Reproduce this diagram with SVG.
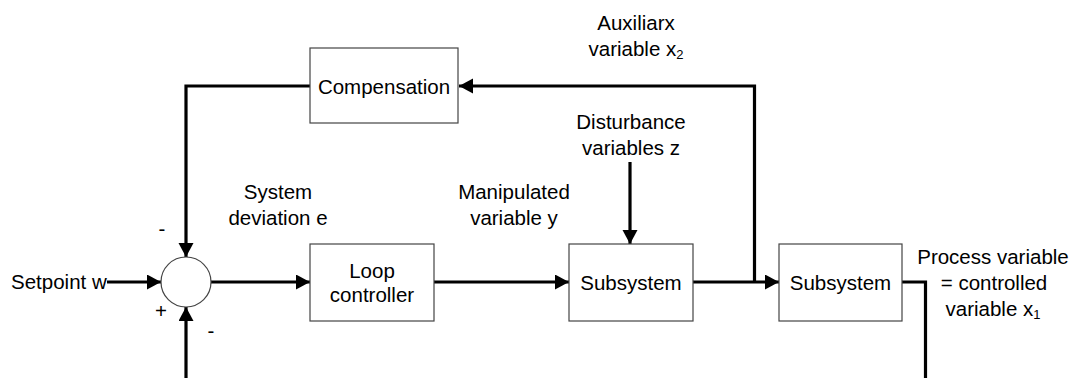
<svg xmlns="http://www.w3.org/2000/svg" width="1081" height="378" viewBox="0 0 1081 378">
<style>
.box{fill:#fff;stroke:#444;stroke-width:1.2}
.ln{fill:none;stroke:#000;stroke-width:3.2}
text{font-family:"Liberation Sans",Arial,sans-serif;font-size:20.5px;fill:#000}
.c{text-anchor:middle}
.sub{font-size:13px}
</style>
<defs>
<marker id="ah" markerUnits="userSpaceOnUse" markerWidth="15" markerHeight="16" refX="14" refY="7.5" orient="auto">
<path d="M0,0 L14,7.5 L0,15 Z" fill="#000"/>
</marker>
</defs>
<rect width="1081" height="378" fill="#fff"/>
<g id="connectors">
<path class="ln" d="M107,282 H161" marker-end="url(#ah)"/>
<path class="ln" d="M211,282 H310" marker-end="url(#ah)"/>
<path class="ln" d="M434,282 H569" marker-end="url(#ah)"/>
<path class="ln" d="M693,282 H779" marker-end="url(#ah)"/>
<path class="ln" d="M754.5,282 V86 H459" marker-end="url(#ah)"/>
<path class="ln" d="M310,86 H186 V257" marker-end="url(#ah)"/>
<path class="ln" d="M630,162 V244" marker-end="url(#ah)"/>
<path class="ln" d="M902,282 H925.5 V378"/>
<path class="ln" d="M186,378 V307" marker-end="url(#ah)"/>
</g>
<g id="summing">
<circle cx="186" cy="282" r="25" fill="#fff" stroke="#444" stroke-width="1.2"/>
<text x="162" y="236" class="c">-</text>
<text x="161" y="318" class="c">+</text>
<text x="211" y="338" class="c">-</text>
</g>
<g id="compensation">
<rect class="box" x="310" y="48" width="148" height="75"/>
<text x="384" y="94" class="c">Compensation</text>
</g>
<g id="loop-controller">
<rect class="box" x="310" y="244" width="124" height="77"/>
<text x="372" y="278" class="c">Loop</text>
<text x="372" y="302" class="c">controller</text>
</g>
<g id="subsystem1">
<rect class="box" x="569" y="244" width="124" height="77"/>
<text x="631" y="290" class="c">Subsystem</text>
</g>
<g id="subsystem2">
<rect class="box" x="779" y="244" width="123" height="77"/>
<text x="840.5" y="290" class="c">Subsystem</text>
</g>
<g id="labels">
<text x="11" y="289">Setpoint w</text>
<text x="278" y="199" class="c">System</text>
<text x="278" y="225" class="c">deviation e</text>
<text x="514" y="199" class="c">Manipulated</text>
<text x="514" y="225" class="c">variable y</text>
<text x="631" y="129" class="c">Disturbance</text>
<text x="631" y="155" class="c">variables z</text>
<text x="636" y="30" class="c">Auxiliarx</text>
<text x="636" y="56" class="c">variable x<tspan class="sub" dy="3">2</tspan></text>
<text x="993" y="264" class="c">Process variable</text>
<text x="994" y="290" class="c">= controlled</text>
<text x="993" y="316" class="c">variable x<tspan class="sub" dy="3">1</tspan></text>
</g>
</svg>
